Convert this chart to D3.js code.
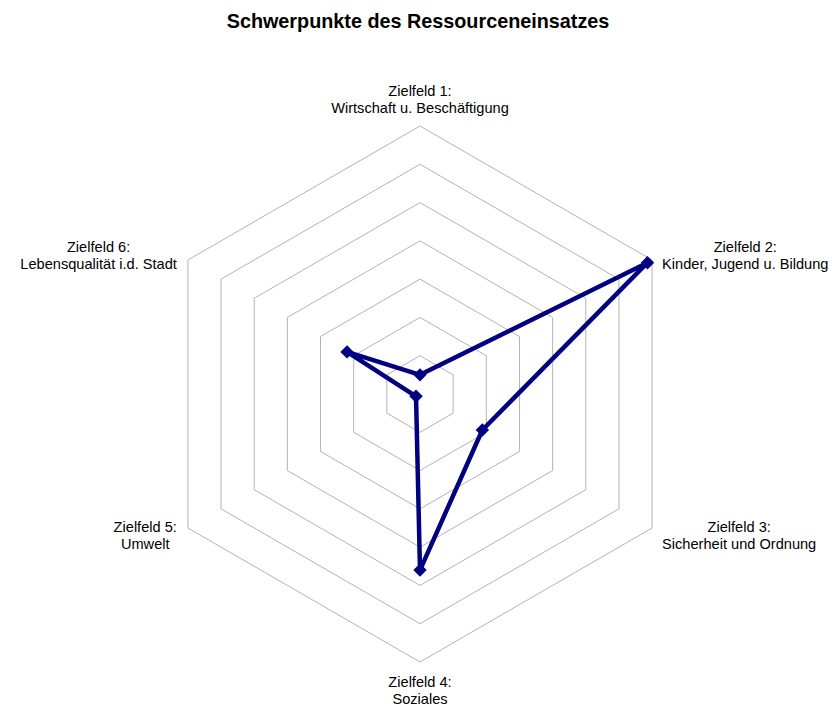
<!DOCTYPE html>
<html>
<head>
<meta charset="utf-8">
<script src="https://cdn.jsdelivr.net/npm/d3@7"></script>
<style>
  body { margin: 0; background: #fff; }
  text { font-family: "Liberation Sans", Arial, sans-serif; fill: #000; }
</style>
</head>
<body>
<svg id="chart" width="832" height="705"></svg>
<script>
const title = 'Schwerpunkte des Ressourceneinsatzes'

// axis labels, two lines each
const fields = [
  ['Zielfeld 1:', 'Wirtschaft u. Beschäftigung'],
  ['Zielfeld 2:', 'Kinder, Jugend u. Bildung'],
  ['Zielfeld 3:', 'Sicherheit und Ordnung'],
  ['Zielfeld 4:', 'Soziales'],
  ['Zielfeld 5:', 'Umwelt'],
  ['Zielfeld 6:', 'Lebensqualität i.d. Stadt']
]

// ring values (no tick labels shown)
const rings = [5, 10, 15, 20, 25, 30, 35]

// estimated values per Zielfeld
const values = [2.5, 34.3, 9.4, 23, 0.6, 11]

const conf = {
  cx: 420,
  cy: 394,
  radius: 268,
  fontSize: 14.6,
  lineHeight: 16.5
}

const svg = d3.select('#chart')

svg.append('text')
  .attr('x', 418)
  .attr('y', 28)
  .attr('text-anchor', 'middle')
  .style('font-size', '19.8px')
  .style('font-weight', 'bold')
  .text(title)

const r = d3.scaleLinear().domain([0, 35]).range([0, conf.radius])
const angle = d3.scaleLinear().domain([0, fields.length]).range([0, 2 * Math.PI])

function pos (i, v) {
  const a = angle(i)
  return [conf.cx + r(v) * Math.sin(a), conf.cy - r(v) * Math.cos(a)]
}

const g = svg.append('g')

// grid hexagons
rings.forEach(v => {
  g.append('path')
    .attr('d', d3.line()(fields.map((f, i) => pos(i, v))) + 'Z')
    .attr('fill', 'none')
    .attr('stroke', '#b3b3b3')
    .attr('stroke-width', 1)
})

// data line
g.append('path')
  .attr('d', d3.line()(values.map((v, i) => pos(i, v))) + 'Z')
  .attr('fill', 'none')
  .attr('stroke', '#000080')
  .attr('stroke-width', 4.5)
  .attr('stroke-linejoin', 'round')

g.selectAll('.marker')
  .data(values)
  .join('path')
  .attr('class', 'marker')
  .attr('d', d3.symbol(d3.symbolSquare, 90))
  .attr('transform', (v, i) => {
    const p = pos(i, v)
    return `translate(${p[0]},${p[1]}) rotate(45)`
  })
  .attr('fill', '#000080')

// axis labels
fields.forEach((lines, i) => {
  const [vx, vy] = pos(i, 35)
  const a = angle(i)
  const sx = Math.round(Math.sin(a) * 100) / 100
  const cy = Math.cos(a)
  const t = g.append('text').style('font-size', conf.fontSize + 'px')
  const spans = lines.map((l, k) => t.append('tspan').text(l))
  const widths = spans.map(s => s.node().getComputedTextLength())
  const w = Math.max(...widths)
  let centerX
  if (sx > 0) centerX = vx + 10 + w / 2
  else if (sx < 0) centerX = vx - 11 - w / 2
  else centerX = vx
  let baseY
  if (Math.abs(cy) > 0.99) baseY = cy > 0 ? vy - 30 : vy + 25
  else baseY = cy > 0 ? vy - 8 : vy + 4
  spans.forEach((s, k) => {
    s.attr('x', centerX)
      .attr('y', baseY + k * conf.lineHeight)
      .attr('text-anchor', 'middle')
  })
})
</script>
</body>
</html>
